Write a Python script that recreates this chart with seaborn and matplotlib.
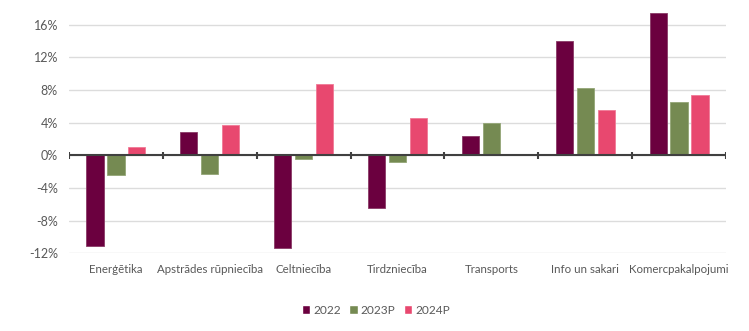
import matplotlib
matplotlib.use("Agg")
import matplotlib.pyplot as plt
from matplotlib.ticker import FuncFormatter, FixedLocator
import seaborn as sns
import pandas as pd
import numpy as np

categories = ["Enerģētika", "Apstrādes rūpniecība", "Celtniecība", "Tirdzniecība",
              "Transports", "Info un sakari", "Komercpakalpojumi"]
series_names = ["2022", "2023P", "2024P"]
values_2022 = [-11.1, 2.8, -11.4, -6.4, 2.4, 14.0, 17.4]
values_2023 = [-2.4, -2.3, -0.5, -0.8, 3.9, 8.3, 6.5]
values_2024 = [1.0, 3.7, 8.7, 4.6, np.nan, 5.6, 7.4]
yticks = [-12, -8, -4, 0, 4, 8, 12, 16]

colors = ["#6b003f", "#758a52", "#e8486f"]
edge_colors = ["#8a3a66", "#93a676", "#f07a96"]

df = pd.DataFrame({
    "Nozare": categories * 3,
    "Gads": [s for s in series_names for _ in categories],
    "Vērtība": values_2022 + values_2023 + values_2024,
})

sns.set_theme(style="white")
plt.rcParams["font.family"] = ["Lato", "DejaVu Sans"]

fig = plt.figure(figsize=(7.49, 3.31), dpi=100)
ax = fig.add_axes([0.0921, 0.2347, 0.8772, 0.7403])

sns.barplot(data=df, x="Nozare", y="Vērtība", hue="Gads", order=categories,
            hue_order=series_names, palette=colors, width=0.67, gap=0.18,
            saturation=1, errorbar=None, ax=ax, legend=True, zorder=3)

for container, ec in zip(ax.containers, edge_colors):
    for bar in container:
        bar.set_edgecolor(ec)
        bar.set_linewidth(0.6)

ax.set_xlim(-0.5, len(categories) - 0.5)
ax.set_ylim(-12, 18)
ax.yaxis.set_major_locator(FixedLocator(yticks))
ax.yaxis.set_major_formatter(FuncFormatter(lambda v, p: f"{v:.0f}%"))
ax.grid(axis="y", color="#dcdcdc", linewidth=1.0, zorder=0)
ax.grid(axis="x", visible=False)
for s in ax.spines.values():
    s.set_visible(False)

# zero baseline with category-boundary ticks
ax.axhline(0, color="#404040", linewidth=1.5, zorder=4)
for b in np.arange(-0.5, len(categories), 1.0):
    ax.plot([b, b], [-0.45, 0.45], color="#404040", linewidth=1.5, zorder=4,
            solid_capstyle="butt")

ax.set_xlabel("")
ax.set_ylabel("")
ax.tick_params(axis="y", length=0, labelsize=9, labelcolor="#595959", pad=8)
ax.tick_params(axis="x", length=0, labelsize=8.3, labelcolor="#595959", pad=8)

handles, labels = ax.get_legend_handles_labels()
ax.legend(handles, labels, loc="center", bbox_to_anchor=(0.502, 0.063),
          bbox_transform=fig.transFigure, ncol=3, frameon=False,
          fontsize=8.6, labelcolor="#595959", handlelength=0.7,
          handleheight=0.7, handletextpad=0.25, columnspacing=0.7)

fig.savefig("out.png", dpi=100)
